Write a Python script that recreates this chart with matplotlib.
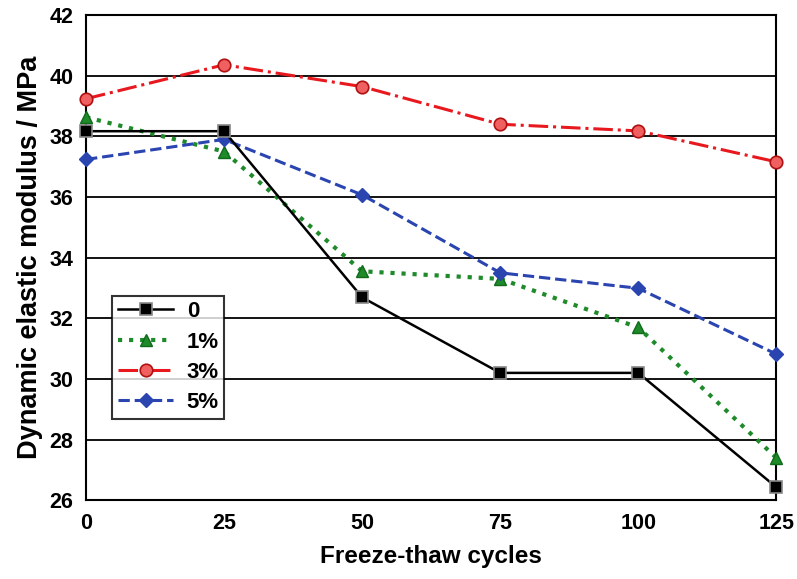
import matplotlib.pyplot as plt
import numpy as np

plt.rcParams['font.family'] = ['Liberation Sans', 'DejaVu Sans']
plt.rcParams['font.weight'] = 'bold'

cycles = [0, 25, 50, 75, 100, 125]
s0 = [38.17, 38.17, 32.69, 30.2, 30.2, 26.43]
s1 = [38.63, 37.5, 33.55, 33.3, 31.7, 27.4]
s3 = [39.24, 40.36, 39.64, 38.4, 38.18, 37.16]
s5 = [37.24, 37.9, 36.07, 33.5, 32.99, 30.82]
labels = ['0', '1%', '3%', '5%']

fig = plt.figure(figsize=(7.97, 5.79), dpi=100)
fig.set_facecolor('w')
ax = fig.add_axes([0.108, 0.136, 0.866, 0.838])

ax.plot(cycles, s0, '-', color='black', lw=1.8, marker='s', ms=8.5,
        mfc='black', mec='#888888', mew=1.2, label=labels[0], clip_on=False, zorder=4)
ax.plot(cycles, s1, ':', color='#1e8a2a', lw=3, marker='^', ms=9,
        mfc='#1e8a2a', mec='#0f6a1a', label=labels[1], clip_on=False, zorder=3)
ax.plot(cycles, s3, '-.', color='#e8191e', lw=2.2, marker='o', ms=9,
        mfc='#f06060', mec='#b01010', mew=1.2, label=labels[2], clip_on=False, zorder=3)
ax.plot(cycles, s5, '--', color='#2a44b0', lw=2.2, marker='D', ms=7,
        mfc='#2a44b0', mec='#2a44b0', label=labels[3], clip_on=False, zorder=3)

ax.set_xlim(0, 125)
ax.set_ylim(26, 42)
ax.set_xticks(cycles)
ax.set_yticks(np.arange(26, 43, 2))
ax.yaxis.grid(True, color='black', lw=1.3)
ax.set_axisbelow(True)
for sp in ax.spines.values():
    sp.set_linewidth(1.5)
ax.tick_params(axis='both', labelsize=15.5, length=0, pad=9)
for t in ax.get_xticklabels() + ax.get_yticklabels():
    t.set_fontweight('bold')

ax.set_xlabel('Freeze-thaw cycles', fontsize=17.5, fontweight='bold', labelpad=8)
ax.set_ylabel('Dynamic elastic modulus / MPa', fontsize=19.5, fontweight='bold', labelpad=5)

leg = ax.legend(loc='lower left', bbox_to_anchor=(0.038, 0.168), frameon=True,
                fancybox=False, edgecolor='black', fontsize=16, handlelength=2.5,
                borderpad=0.25, labelspacing=0.42, handletextpad=0.6, borderaxespad=0)
leg.get_frame().set_linewidth(1.5)
for t in leg.get_texts():
    t.set_fontweight('bold')

fig.savefig('out.png', dpi=100)
